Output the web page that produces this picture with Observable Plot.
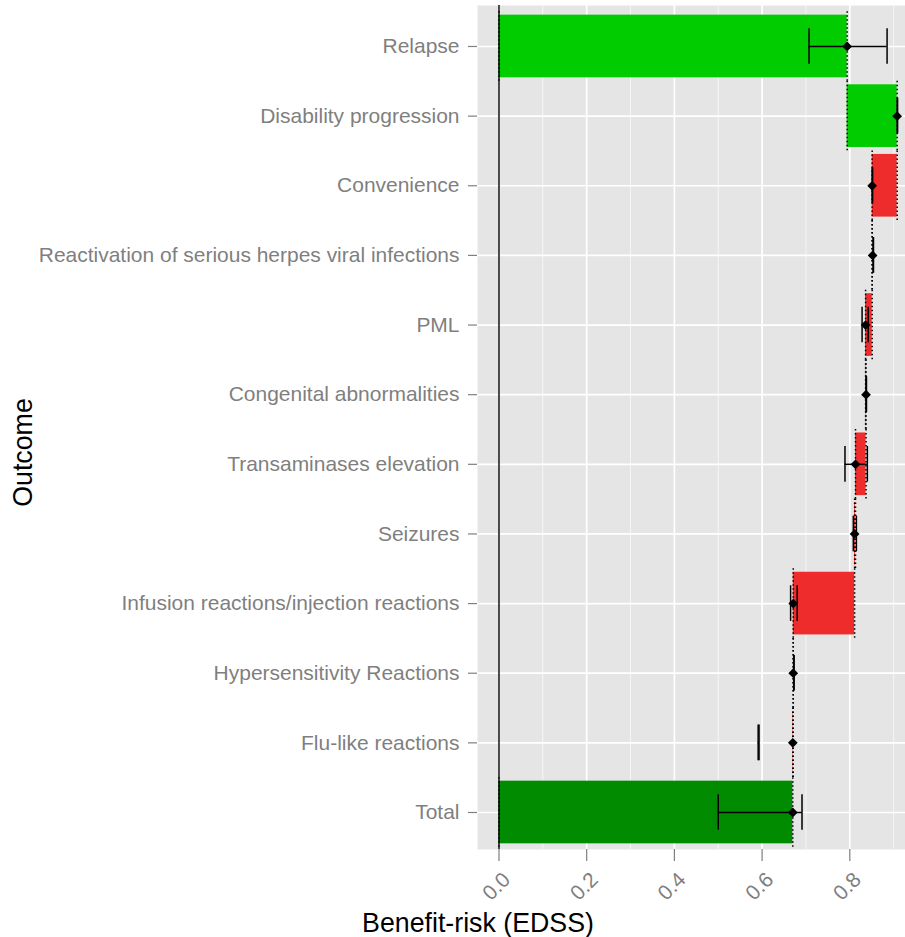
<!DOCTYPE html>
<html>
<head>
<meta charset="utf-8">
<script src="https://cdn.jsdelivr.net/npm/d3@7"></script>
<script src="https://cdn.jsdelivr.net/npm/@observablehq/plot@0.6"></script>
<style>
  html, body { margin: 0; padding: 0; background: #ffffff; }
  #chart { width: 905px; height: 937px; overflow: hidden; }
</style>
</head>
<body>
<div id="chart"></div>
<script>
// ---- data ----
const outcomes = [
  "Relapse",
  "Disability progression",
  "Convenience",
  "Reactivation of serious herpes viral infections",
  "PML",
  "Congenital abnormalities",
  "Transaminases elevation",
  "Seizures",
  "Infusion reactions/injection reactions",
  "Hypersensitivity Reactions",
  "Flu-like reactions",
  "Total"
];
const kind      = ["benefit","benefit","risk","risk","risk","risk","risk","risk","risk","risk","risk","total"];
const barStart  = [0,     0.794, 0.908, 0.851, 0.851, 0.836, 0.837, 0.813, 0.811, 0.671, 0.671, 0];
const barEnd    = [0.794, 0.908, 0.851, 0.851, 0.836, 0.837, 0.813, 0.811, 0.671, 0.671, 0.670, 0.670];
const estimate  = [0.794, 0.908, 0.851, 0.852, 0.836, 0.837, 0.813, 0.811, 0.671, 0.671, 0.670, 0.670];
const ciLow     = [0.707, 0.908, 0.851, 0.853, 0.828, 0.837, 0.789, 0.808, 0.665, 0.672, 0.591, 0.500];
const ciHigh    = [0.885, 0.909, 0.852, 0.854, 0.842, 0.838, 0.840, 0.815, 0.680, 0.673, 0.593, 0.691];
const xMajor    = [0, 0.2, 0.4, 0.6, 0.8];
const xMinor    = [0.1, 0.3, 0.5, 0.7, 0.9];
const kinds     = ["benefit", "risk", "total"];
const kindColors = ["#00CC00", "#EE2C2C", "#008B00"];

const data = outcomes.map((o, i) => ({
  outcome: o, kind: kind[i], start: barStart[i], end: barEnd[i],
  est: estimate[i], lo: ciLow[i], hi: ciHigh[i]
}));

// ---- font sizing by measurement ----
const tickFamily = "'Liberation Sans Narrow', 'Liberation Sans', Arial, sans-serif";
const titleFamily = "'Liberation Sans', Arial, Helvetica, sans-serif";
const ctx = document.createElement("canvas").getContext("2d");
function fitSize(text, width, family) {
  ctx.font = `100px ${family}`;
  return 100 * width / ctx.measureText(text).width;
}
const tickSize = fitSize("Reactivation of serious herpes viral infections", 421, tickFamily);
const titleSize = fitSize("Benefit-risk (EDSS)", 232, titleFamily);

const gray = "#7F7F7F";
const dotted = {stroke: "black", strokeWidth: 1.5, strokeDasharray: "1.5,2.5", insetTop: -3.5, insetBottom: -4};

const plot = Plot.plot({
  width: 905,
  height: 937,
  marginLeft: 477,
  marginRight: 0,
  marginTop: 5,
  marginBottom: 88,
  style: {fontFamily: tickFamily, background: "white", overflow: "visible"},
  x: {domain: [-0.049, 0.927], axis: null},
  y: {type: "band", domain: outcomes, paddingInner: 0.1, paddingOuter: 0.11, align: 0.63, round: false, axis: null},
  color: {domain: kinds, range: kindColors},
  marks: [
    Plot.frame({fill: "#E5E5E5", stroke: null}),
    Plot.ruleX(xMinor, {x: d => d, stroke: "#F7F7F7", strokeWidth: 0.9}),
    Plot.ruleX(xMajor, {x: d => d, stroke: "white", strokeWidth: 1.7}),
    Plot.ruleY(outcomes, {y: d => d, stroke: "white", strokeWidth: 1.7}),
    Plot.barX(data, {x1: "start", x2: "end", y: "outcome", fill: "kind"}),
    Plot.tickX(data, {x: "start", y: "outcome", ...dotted}),
    Plot.tickX(data, {x: "end", y: "outcome", ...dotted}),
    Plot.ruleX([0], {x: d => d, stroke: "black", strokeWidth: 1.4}),
    Plot.ruleY(data, {x1: "lo", x2: "hi", y: "outcome", stroke: "black", strokeWidth: 1.5}),
    Plot.tickX(data, {x: "lo", y: "outcome", stroke: "black", strokeWidth: 1.5, insetTop: 13.5, insetBottom: 13.5}),
    Plot.tickX(data, {x: "hi", y: "outcome", stroke: "black", strokeWidth: 1.5, insetTop: 13.5, insetBottom: 13.5}),
    Plot.dot(data, {x: "est", y: "outcome", symbol: "diamond2", r: 4.4, fill: "black", stroke: null}),
    // y axis
    Plot.axisY({tickSize: 9, tickPadding: 9, color: gray, fontSize: tickSize, fontFamily: tickFamily, label: null, strokeWidth: 1.2}),
    // x axis ticks & labels
    Plot.axisX(xMajor, {tickSize: 12, tickFormat: () => "", color: gray, label: null, strokeWidth: 1.2}),
    Plot.text(xMajor, {x: d => d, frameAnchor: "bottom", dy: 37, dx: -2.5, rotate: -45,
      text: d => d3.format(".1f")(d), textAnchor: "middle", lineAnchor: "middle",
      fill: gray, fontSize: tickSize, fontFamily: tickFamily}),
    // axis titles
    Plot.text(["Benefit-risk (EDSS)"], {frameAnchor: "bottom", dx: 477.5 - 691, dy: 74,
      textAnchor: "middle", lineAnchor: "middle", fill: "black", fontSize: titleSize, fontFamily: titleFamily}),
    Plot.text(["Outcome"], {frameAnchor: "left", dx: 23 - 477, dy: 25, rotate: -90,
      textAnchor: "middle", lineAnchor: "middle", fill: "black", fontSize: titleSize, fontFamily: titleFamily})
  ]
});
document.getElementById("chart").appendChild(plot);
</script>
</body>
</html>
